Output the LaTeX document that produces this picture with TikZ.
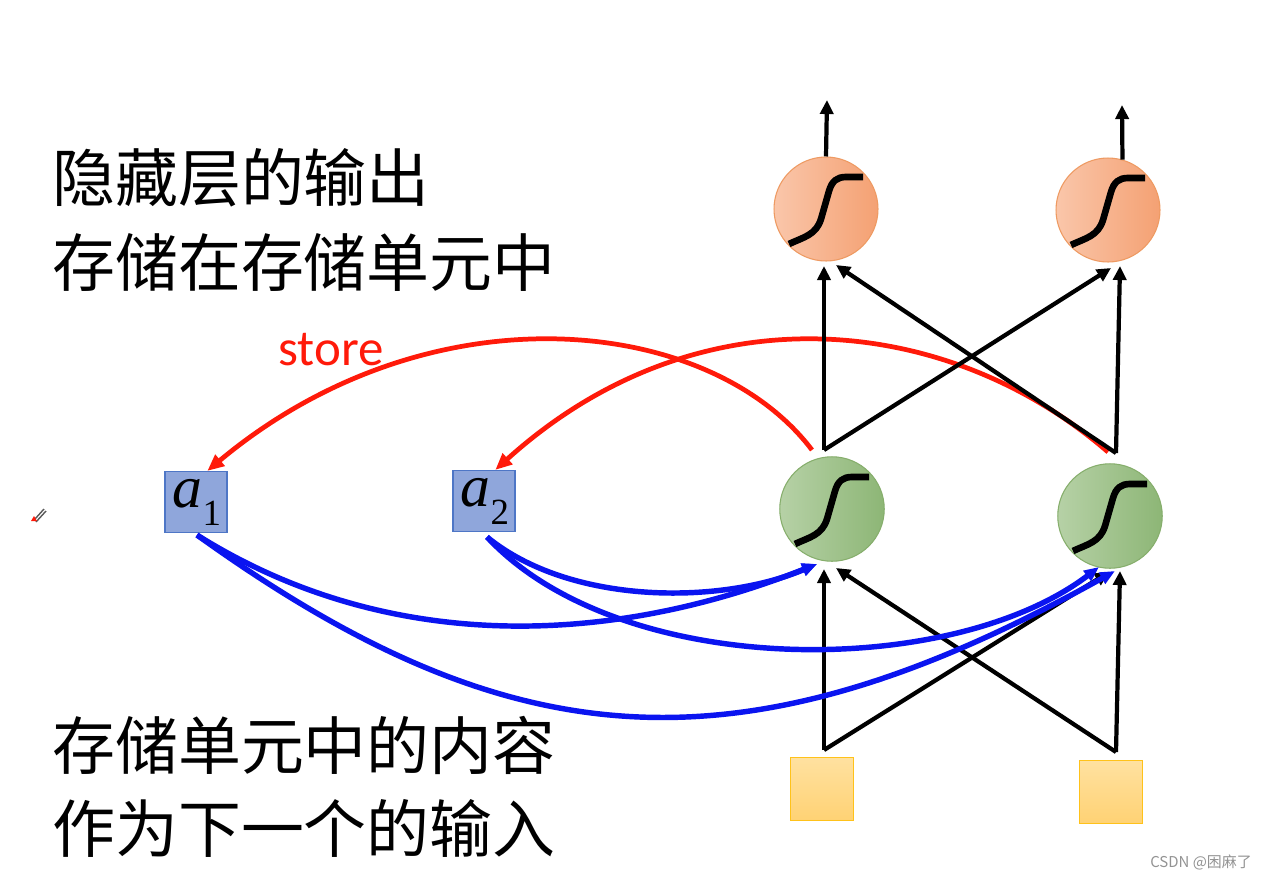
\documentclass[tikz,border=0pt]{standalone}
\usepackage{fontspec}
\setmainfont{Liberation Serif}
\newfontfamily\cjk{Noto Sans CJK SC}
\newfontfamily\calfont{Carlito}
\usetikzlibrary{arrows.meta,calc}
\definecolor{oedge}{HTML}{EE9A62}
\definecolor{oleft}{HTML}{FAC6AA}
\definecolor{oright}{HTML}{F4A173}
\definecolor{gedge}{HTML}{86AE6C}
\definecolor{gleft}{HTML}{B6D1A6}
\definecolor{gright}{HTML}{8DB676}
\definecolor{bfill}{HTML}{8FA6DB}
\definecolor{bedge}{HTML}{4E76C6}
\definecolor{ytop}{HTML}{FFE1A0}
\definecolor{ybot}{HTML}{FFD274}
\definecolor{yedge}{HTML}{FFC21A}
\definecolor{bluec}{HTML}{0A14F0}
\definecolor{redc}{HTML}{FF1A0A}
\begin{document}
\begin{tikzpicture}[x=0.02cm,y=-0.02cm,
  ocirc/.style={circle,minimum size=2.08cm,inner sep=0pt,draw=oedge,line width=0.6pt,left color=oleft,right color=oright},
  gcirc/.style={circle,minimum size=2.09cm,inner sep=0pt,draw=gedge,line width=0.6pt,left color=gleft,right color=gright},
  mbox/.style={rectangle,minimum width=1.24cm,minimum height=1.22cm,inner sep=0pt,draw=bedge,line width=0.7pt,fill=bfill},
  ybox/.style={rectangle,minimum width=1.26cm,minimum height=1.26cm,inner sep=0pt,draw=yedge,line width=0.9pt,top color=ytop,bottom color=ybot},
  blk/.style={line width=2.4pt,-{Triangle[length=8pt,width=7.5pt]}},
  redline/.style={draw=redc,line width=2.7pt,-{Triangle[length=9.5pt,width=8pt]}},
  blueline/.style={draw=bluec,line width=3.1pt,-{Triangle[length=8.5pt,width=7pt]}},
  sig/.style={line width=3.8pt,line cap=butt},
  cjktext/.style={anchor=west,inner sep=0pt,font=\cjk\fontsize{35.8}{40}\selectfont}
]
\useasboundingbox (0,0) rectangle (1265,880);
\fill[white] (0,0) rectangle (1265,880);

% texts
\node[cjktext] (t1) at (52,178) {隐藏层的输出};
\node[cjktext] (t2) at (52,262) {存储在存储单元中};
\node[cjktext] (t3) at (52,745) {存储单元中的内容};
\node[cjktext] (t4) at (52,828) {作为下一个的输入};
\node[text=redc,inner sep=0pt,font=\calfont\fontsize{29}{30}\selectfont] (st) at (331,350) {store};
\node[text=gray!85,inner sep=0pt,font=\cjk\fontsize{8.5}{9}\selectfont] (wm) at (1201,862) {CSDN @困麻了};

% nodes
\node[ocirc] (o1) at (826,209) {};
\node[ocirc] (o2) at (1108,210) {};
\node[gcirc] (h1) at (832,509) {};
\node[gcirc] (h2) at (1110,516) {};
\node[mbox] (m1) at (196,502) {};
\node[mbox] (m2) at (484,501) {};
\node[ybox] (x1) at (822,789) {};
\node[ybox] (x2) at (1111,792) {};

\node[inner sep=0pt] (l1) at (197,502) {\fontsize{34}{34}\selectfont\textit{a}\raisebox{-0.3em}{\fontsize{21}{21}\selectfont 1}};
\node[inner sep=0pt] (l2) at (485,501) {\fontsize{34}{34}\selectfont\textit{a}\raisebox{-0.3em}{\fontsize{21}{21}\selectfont 2}};

% sigmoids
\foreach \n in {o1,o2,h1,h2}{
  \draw[sig,shift={(\n.center)}] (-37,35) .. controls (-22,28) and (-10,26) .. (-5,10)
     -- (3,-18) .. controls (6,-28) and (11,-32) .. (20,-32) -- (37,-32);
}

% coordinates
\coordinate (top1) at (827,100);
\coordinate (top2) at (1122,105);
\coordinate (j1) at (824,450);
\coordinate (j2) at (1116,453);
\coordinate (p1) at (824,266);
\coordinate (p2) at (836,265);
\coordinate (p3) at (1111,268);
\coordinate (p4) at (1120,266);
\coordinate (k1) at (824,750);
\coordinate (k2) at (1116,752);
\coordinate (q1) at (824,569);
\coordinate (q2) at (836,568);
\coordinate (q3) at (1109,572);
\coordinate (q4) at (1120,571);
\coordinate (rs1) at (812,450);
\coordinate (rs2) at (1108,452);
\coordinate (bs1) at (197,535);
\coordinate (bs2) at (487,537);
\coordinate (bl) at (817,564);
\coordinate (br1) at (1099,567);
\coordinate (br2) at (1115,571);

% red store curves
\draw[redline] (rs1) .. controls (710,315) and (430,285) .. (m1.70);
\draw[redline] (rs2) .. controls (950,315) and (700,285) .. (m2.70);

% black arrows
\draw[blk] (o1.north) -- (top1);
\draw[blk] (o2.74) -- (top2);
\draw[blk] (j1) -- (p1);
\draw[blk] (j1) -- (p3);
\draw[blk] (j2) -- (p2);
\draw[blk] (j2) -- (p4);
\draw[blk] (k1) -- (q1);
\draw[blk] (k1) -- (q3);
\draw[blk] (k2) -- (q2);
\draw[blk] (k2) -- (q4);

% blue curves
\draw[blueline] (bs1) .. controls (380,650) and (600,650) .. (bl);
\draw[blueline] (bs1) .. controls (510,760) and (740,780) .. (br2);
\draw[blueline] (bs2) .. controls (570,605) and (720,605) .. (bl);
\draw[blueline] (bs2) .. controls (620,680) and (950,680) .. (br1);

% small pen icon
\coordinate (pa) at (44,509);
\coordinate (pb) at (31,521);
\draw[gray!70!black,line width=0.8pt] (pa) -- ($(pb)+(4,-2)$);
\draw[gray!70!black,line width=0.8pt] ($(pa)+(2,2)$) -- ($(pb)+(5,1)$);
\fill[redc] (pb) -- ($(pb)+(3,-5)$) -- ($(pb)+(6,0)$) -- cycle;
\end{tikzpicture}
\end{document}
